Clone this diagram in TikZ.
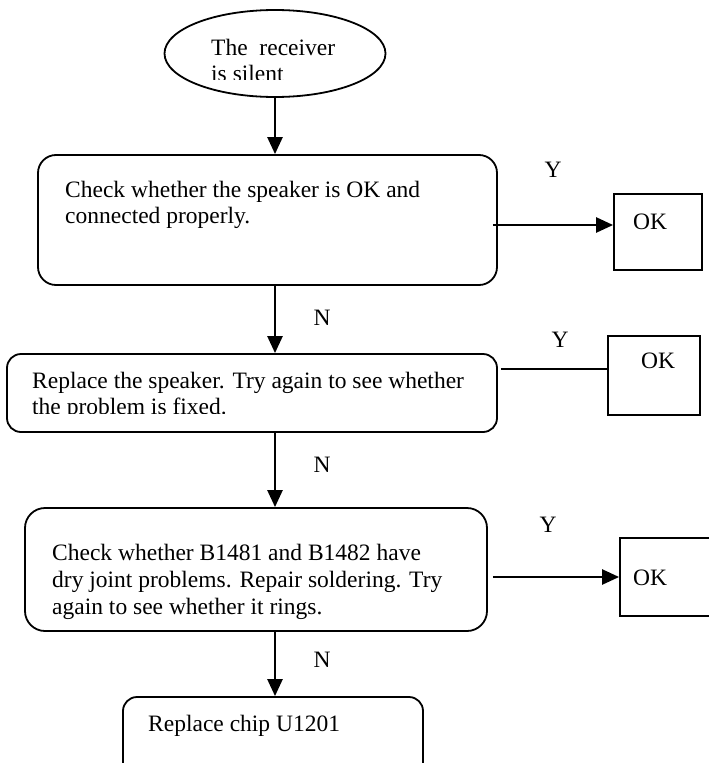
\documentclass[tikz,border=0pt]{standalone}
\usepackage{fontspec}
\setmainfont{Liberation Serif}
\usetikzlibrary{arrows.meta,shapes.geometric}
\begin{document}
\begin{tikzpicture}[x=1pt,y=-1pt,
  flowbox/.style={draw,line width=1.8pt,inner sep=0pt},
  okbox/.style={draw,line width=1.8pt,inner sep=0pt},
  txt/.style={font=\fontsize{23.5}{26}\selectfont,inner sep=0pt,align=left,anchor=north west},
  lbl/.style={font=\fontsize{23.5}{26}\selectfont,inner sep=0pt},
  flow/.style={line width=2.5pt,-{Triangle[length=17pt,width=15pt]}},
  plain/.style={line width=2.5pt},
]
\useasboundingbox (0,0) rectangle (709,763);
\clip (0,0) rectangle (709,763);

% start ellipse
\node[flowbox,ellipse,minimum width=221pt,minimum height=87pt] (start) at (275,53.5) {};
\begin{scope}
  \clip (150,0) rectangle (400,79);
  \node[txt] (starttxt) at (211,39) {The~ receiver\\is silent};
\end{scope}

% process boxes
\node[flowbox,rounded corners=18pt,minimum width=459pt,minimum height=130pt] (box1) at (267.5,220) {};
\node[txt] (box1txt) at (65,181) {Check whether the speaker is OK and\\connected properly.};

\node[flowbox,rounded corners=14pt,minimum width=490pt,minimum height=78pt] (box2) at (252,393) {};
\begin{scope}
  \clip (0,354) rectangle (497,413);
  \node[txt] (box2txt) at (32,372) {Replace the speaker. Try again to see whether\\the problem is fixed.};
\end{scope}

\node[flowbox,rounded corners=20pt,minimum width=462pt,minimum height=123pt] (box3) at (256,569.5) {};
\node[txt,font=\fontsize{23.5}{27}\selectfont] (box3txt) at (52,544) {Check whether B1481 and B1482 have\\dry joint problems. Repair soldering. Try\\again to see whether it rings.};

\node[flowbox,rounded corners=14pt,minimum width=300pt,minimum height=90pt] (box4) at (273,742) {};
\node[txt] (box4txt) at (148,715) {Replace chip U1201};

% OK boxes
\node[okbox,minimum width=88pt,minimum height=76pt] (ok1) at (658,232) {};
\node[lbl] (ok1txt) at (650,222) {OK};
\node[okbox,minimum width=92pt,minimum height=79pt] (ok2) at (654,375.5) {};
\node[lbl] (ok2txt) at (658,361) {OK};
\node[okbox,minimum width=92pt,minimum height=78pt] (ok3) at (666,577) {};
\node[lbl] (ok3txt) at (650,578) {OK};

% branch labels
\node[lbl] (y1) at (553,170) {Y};
\node[lbl] (y2) at (560,340) {Y};
\node[lbl] (y3) at (548,525) {Y};
\node[lbl] (n1) at (322,318) {N};
\node[lbl] (n2) at (322,465) {N};
\node[lbl] (n3) at (322,660) {N};

% main flow
\draw[flow] (start.south) -- (start.south |- box1.north);
\draw[flow] (start.south |- box1.south) -- (start.south |- box2.north);
\draw[flow] (start.south |- box2.south) -- (start.south |- box3.north);
\draw[flow] (start.south |- box3.south) -- (start.south |- box4.north);

% yes branches
\draw[flow] ([xshift=-5pt,yshift=-5pt]box1.east) -- ([yshift=-5pt]box1.east -| ok1.west);
\draw[plain] ([xshift=3pt,yshift=24pt]box2.east) -- ([yshift=24pt]box2.east -| ok2.west);
\draw[flow] ([xshift=5pt]box3.east |- ok3.west) -- (ok3.west);
\end{tikzpicture}
\end{document}
